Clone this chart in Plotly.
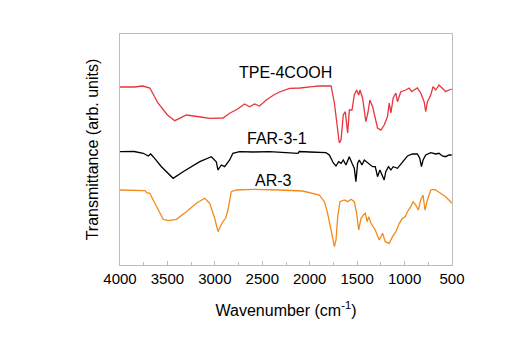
import plotly.graph_objects as go

# Wavenumber (cm-1) and transmittance (arb. units)
tpe_x = [4000, 3850, 3760, 3720, 3685, 3600, 3500, 3422, 3300, 3150, 3054, 2914, 2844, 2760, 2686,
         2634, 2581, 2529, 2458, 2380, 2318, 2213, 2100, 1971, 1898, 1775, 1740, 1688, 1670, 1646,
         1625, 1600, 1582, 1554, 1530, 1505, 1484, 1470, 1443, 1425, 1408, 1387, 1366, 1337, 1309,
         1285, 1250, 1215, 1180, 1162, 1144, 1120, 1092, 1075, 1040, 987, 952, 924, 900, 865, 830,
         794, 777, 759, 724, 700, 671, 637, 602, 567, 532, 503]
tpe_y = [1.78, 1.78, 1.79, 1.78, 1.77, 1.62, 1.50, 1.443, 1.50, 1.48, 1.467, 1.47, 1.517, 1.56, 1.61,
         1.583, 1.61, 1.59, 1.65, 1.70, 1.73, 1.767, 1.77, 1.783, 1.79, 1.79, 1.62, 1.22, 1.25, 1.50,
         1.533, 1.32, 1.55, 1.55, 1.70, 1.75, 1.70, 1.75, 1.67, 1.55, 1.433, 1.52, 1.65, 1.583, 1.47,
         1.37, 1.35, 1.40, 1.483, 1.62, 1.52, 1.67, 1.72, 1.633, 1.733, 1.75, 1.77, 1.733, 1.75, 1.77, 1.72,
         1.633, 1.533, 1.633, 1.70, 1.783, 1.75, 1.80, 1.767, 1.733, 1.75, 1.76]

far_x = [4000, 3850, 3755, 3702, 3677, 3650, 3563, 3440, 3335, 3159, 3037, 2985, 2967, 2932, 2897,
         2844, 2810, 2739, 2600, 2423, 2124, 2110, 2000, 1829, 1793, 1751, 1723, 1695, 1670, 1646,
         1618, 1583, 1554, 1530, 1513, 1495, 1477, 1449, 1425, 1401, 1372, 1337, 1309, 1285, 1260,
         1235, 1215, 1198, 1170, 1144, 1120, 1075, 1022, 970, 917, 865, 840, 822, 805, 777, 724,
         671, 637, 602, 567, 532, 503]
far_y = [1.133, 1.135, 1.117, 1.09, 1.11, 1.083, 0.983, 0.867, 0.933, 1.033, 1.083, 1.033, 0.95, 1.00, 0.983,
         1.05, 1.117, 1.133, 1.13, 1.133, 1.117, 1.135, 1.13, 1.123, 1.10, 1.02, 0.99, 1.033, 1.017, 1.05,
         1.00, 1.083, 1.017, 0.967, 0.833, 1.017, 1.05, 1.00, 1.05, 1.033, 1.017, 0.983, 0.983, 0.883, 0.95,
         0.90, 0.85, 0.933, 0.983, 0.95, 0.983, 0.967, 1.033, 1.09, 1.11, 1.11, 1.067, 0.983, 1.05, 1.10, 1.123,
         1.11, 1.117, 1.09, 1.083, 1.10, 1.10]

ar_x = [4000, 3850, 3737, 3720, 3685, 3650, 3597, 3545, 3492, 3405, 3300, 3195, 3107, 3054, 3002,
        2967, 2943, 2915, 2887, 2862, 2827, 2774, 2600, 2458, 2318, 2073, 1898, 1845, 1811, 1775,
        1740, 1723, 1705, 1681, 1635, 1600, 1565, 1530, 1505, 1484, 1459, 1434, 1413, 1396, 1378,
        1354, 1309, 1267, 1232, 1204, 1162, 1127, 1092, 1055, 1022, 993, 970, 935, 910, 882, 855,
        830, 805, 785, 759, 724, 700, 671, 619, 567, 515, 503]
ar_y = [0.75, 0.75, 0.743, 0.723, 0.717, 0.65, 0.55, 0.457, 0.443, 0.457, 0.533, 0.617, 0.667, 0.617, 0.467,
        0.333, 0.383, 0.433, 0.467, 0.55, 0.733, 0.75, 0.757, 0.757, 0.75, 0.74, 0.70, 0.633, 0.517, 0.35,
        0.183, 0.25, 0.483, 0.633, 0.65, 0.633, 0.657, 0.633, 0.517, 0.35, 0.467, 0.50, 0.517, 0.433, 0.483,
        0.417, 0.35, 0.25, 0.317, 0.233, 0.217, 0.283, 0.333, 0.417, 0.467, 0.483, 0.533, 0.583, 0.633, 0.60, 0.55,
        0.65, 0.70, 0.55, 0.65, 0.75, 0.757, 0.75, 0.717, 0.683, 0.633, 0.617]

labels = ["TPE-4COOH", "FAR-3-1", "AR-3"]
label_pos = [(2255, 1.93), (2345, 1.27), (2387, 0.85)]
colors = ["#e8353d", "#000000", "#f28a1c"]

fig = go.Figure()
for xs, ys, c, name in zip([tpe_x, far_x, ar_x], [tpe_y, far_y, ar_y], colors, labels):
    fig.add_trace(go.Scatter(x=xs, y=ys, mode="lines", name=name,
                             line=dict(color=c, width=1.3), showlegend=False))

for name, (lx, ly) in zip(labels, label_pos):
    fig.add_annotation(x=lx, y=ly, text=name, showarrow=False,
                       font=dict(family="Liberation Sans, Arial", size=16, color="#000000"))

axis_col = "#bdbdbd"
fig.update_layout(
    width=517, height=354,
    margin=dict(l=120, r=65, t=34, b=89),
    paper_bgcolor="white", plot_bgcolor="white",
    font=dict(family="Liberation Sans, Arial", size=15, color="#000000"),
)
fig.update_xaxes(
    range=[4000, 500], tickvals=[4000, 3500, 3000, 2500, 2000, 1500, 1000, 500],
    ticks="inside", ticklen=4, tickcolor=axis_col, tickwidth=1,
    minor=dict(dtick=250, ticks="inside", ticklen=3, tickcolor=axis_col, showgrid=False),
    showline=True, linecolor=axis_col, linewidth=1, mirror=True, showgrid=False, zeroline=False,
    tickfont=dict(size=15),
    title=dict(text="Wavenumber (cm<sup>-1</sup>)", font=dict(size=16), standoff=18),
)
fig.update_yaxes(
    range=[0, 2.31], showticklabels=False, ticks="",
    showline=True, linecolor=axis_col, linewidth=1, mirror=True, showgrid=False, zeroline=False,
    title=dict(text="Transmittance (arb. units)", font=dict(size=16), standoff=16),
)
fig.write_html("out.html")
